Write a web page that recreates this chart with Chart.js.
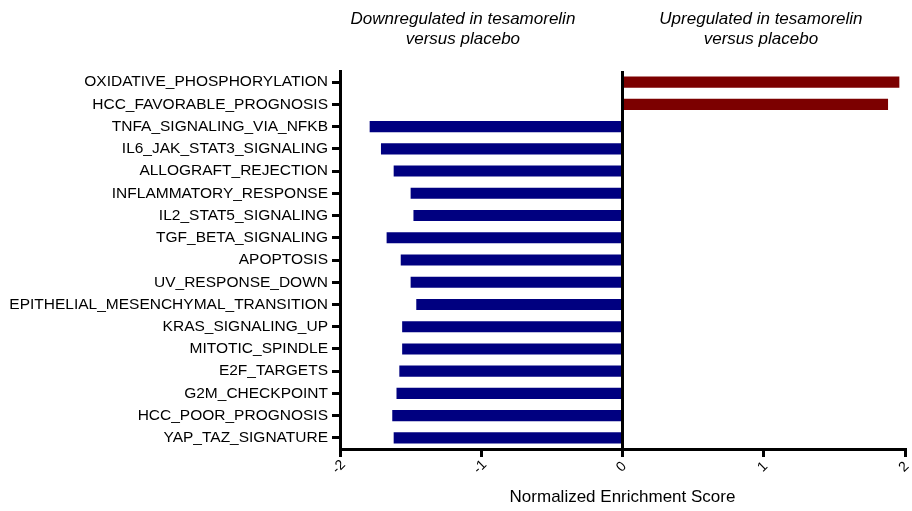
<!DOCTYPE html>
<html>
<head>
<meta charset="utf-8">
<script src="https://cdn.jsdelivr.net/npm/chart.js@4"></script>
<style>
  body { margin: 0; background: #fff; }
  #wrap { width: 912px; height: 511px; }
</style>
</head>
<body>
<div id="wrap"><canvas id="gsea"></canvas></div>
<script>
// hallmark gene sets, top to bottom
const pathways = [
  'OXIDATIVE_PHOSPHORYLATION',
  'HCC_FAVORABLE_PROGNOSIS',
  'TNFA_SIGNALING_VIA_NFKB',
  'IL6_JAK_STAT3_SIGNALING',
  'ALLOGRAFT_REJECTION',
  'INFLAMMATORY_RESPONSE',
  'IL2_STAT5_SIGNALING',
  'TGF_BETA_SIGNALING',
  'APOPTOSIS',
  'UV_RESPONSE_DOWN',
  'EPITHELIAL_MESENCHYMAL_TRANSITION',
  'KRAS_SIGNALING_UP',
  'MITOTIC_SPINDLE',
  'E2F_TARGETS',
  'G2M_CHECKPOINT',
  'HCC_POOR_PROGNOSIS',
  'YAP_TAZ_SIGNATURE'
];
const nes = [1.96, 1.88, -1.79, -1.71, -1.62, -1.50, -1.48, -1.67, -1.57, -1.50,
             -1.46, -1.56, -1.56, -1.58, -1.60, -1.63, -1.62];
const xTicks = [-2, -1, 0, 1, 2];
const xTitle = 'Normalized Enrichment Score';
const downLabel = ['Downregulated in tesamorelin', 'versus placebo'];
const upLabel = ['Upregulated in tesamorelin', 'versus placebo'];

const FONT = '"Liberation Sans", Arial, sans-serif';

const extraText = {
  id: 'extraText',
  afterDraw(chart) {
    const c = chart.ctx, x = chart.scales.x, area = chart.chartArea;
    c.save();
    c.fillStyle = '#000';
    // tick labels, tilted and centred under each tick
    c.font = '14px ' + FONT;
    c.textAlign = 'center';
    c.textBaseline = 'middle';
    xTicks.forEach(v => {
      c.save();
      c.translate(x.getPixelForValue(v) - 1, area.bottom + 18);
      c.rotate(-Math.PI / 4);
      c.fillText(String(v), 0, 0);
      c.restore();
    });
    // axis title
    c.font = '17px ' + FONT;
    c.fillText(xTitle, x.getPixelForValue(0), 497);
    // header notes
    c.font = 'italic 17px ' + FONT;
    downLabel.forEach((t, i) => c.fillText(t, x.getPixelForValue(-1.13), 19 + i * 20));
    upLabel.forEach((t, i) => c.fillText(t, x.getPixelForValue(0.98), 19 + i * 20));
    c.restore();
  }
};

new Chart(document.getElementById('gsea'), {
  type: 'bar',
  data: {
    labels: pathways,
    datasets: [{
      data: nes,
      backgroundColor: nes.map(v => v > 0 ? '#7c0000' : '#000080'),
      categoryPercentage: 1,
      barPercentage: 0.5
    }]
  },
  options: {
    indexAxis: 'y',
    responsive: true,
    maintainAspectRatio: false,
    animation: false,
    layout: { padding: { top: 71, right: 7, left: 0, bottom: 0 } },
    plugins: {
      legend: { display: false },
      tooltip: { enabled: false }
    },
    scales: {
      x: {
        min: -2,
        max: 2,
        ticks: { stepSize: 1, display: false },
        afterFit(s) { s.height = 62; },
        border: { color: '#000', width: 3 },
        grid: {
          color: ctx => (ctx.tick && ctx.tick.value === 0) ? '#000' : 'rgba(0,0,0,0)',
          lineWidth: 3,
          tickColor: '#000',
          tickWidth: 3,
          tickLength: 8
        }
      },
      y: {
        afterFit(s) { s.width = 340; },
        border: { color: '#000', width: 3 },
        ticks: { color: '#000', padding: 4, font: { family: FONT, size: 15.5 } },
        grid: {
          offset: false,
          color: 'rgba(0,0,0,0)',
          tickColor: '#000',
          tickWidth: 3,
          tickLength: 8
        }
      }
    }
  },
  plugins: [extraText]
});
</script>
</body>
</html>
